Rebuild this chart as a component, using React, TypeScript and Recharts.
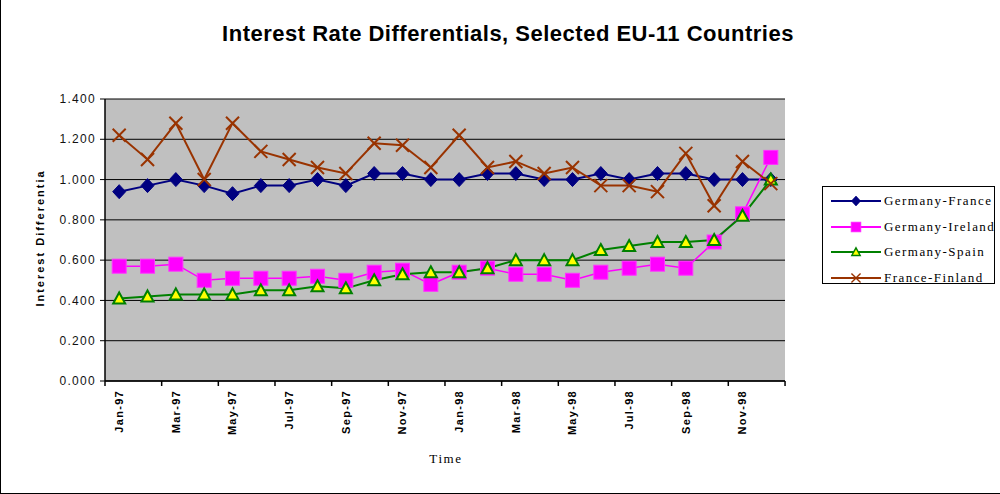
import React from 'react';
import { LineChart, Line, XAxis, YAxis, CartesianGrid } from 'recharts';

const months = [
  'Jan-97', 'Feb-97', 'Mar-97', 'Apr-97', 'May-97', 'Jun-97', 'Jul-97', 'Aug-97', 'Sep-97', 'Oct-97', 'Nov-97', 'Dec-97',
  'Jan-98', 'Feb-98', 'Mar-98', 'Apr-98', 'May-98', 'Jun-98', 'Jul-98', 'Aug-98', 'Sep-98', 'Oct-98', 'Nov-98', 'Dec-98',
];
const germanyFrance = [0.94, 0.97, 1.0, 0.97, 0.93, 0.97, 0.97, 1.0, 0.97, 1.03, 1.03, 1.0, 1.0, 1.03, 1.03, 1.0, 1.0, 1.03, 1.0, 1.03, 1.03, 1.0, 1.0, 1.0];
const germanyIreland = [0.57, 0.57, 0.58, 0.5, 0.51, 0.51, 0.51, 0.52, 0.5, 0.54, 0.55, 0.48, 0.54, 0.56, 0.53, 0.53, 0.5, 0.54, 0.56, 0.58, 0.56, 0.69, 0.83, 1.11];
const germanySpain = [0.41, 0.42, 0.43, 0.43, 0.43, 0.45, 0.45, 0.47, 0.46, 0.5, 0.53, 0.54, 0.54, 0.56, 0.6, 0.6, 0.6, 0.65, 0.67, 0.69, 0.69, 0.7, 0.82, 1.0];
const franceFinland = [1.22, 1.1, 1.28, 1.0, 1.28, 1.14, 1.1, 1.06, 1.03, 1.18, 1.17, 1.06, 1.22, 1.06, 1.09, 1.03, 1.06, 0.97, 0.97, 0.94, 1.13, 0.87, 1.09, 0.98];
const yTicks = [0, 0.2, 0.4, 0.6, 0.8, 1.0, 1.2, 1.4];

const seriesNames = ['Germany-France', 'Germany-Ireland', 'Germany-Spain', 'France-Finland'];
const seriesKeys = ['gf', 'gi', 'gs', 'ff'];
const seriesColors = ['#000080', '#FF00FF', '#008000', '#993300'];

const data = months.map((m, i) => ({
  month: m,
  gf: germanyFrance[i],
  gi: germanyIreland[i],
  gs: germanySpain[i],
  ff: franceFinland[i],
}));

const HALF_BAND = 14.19;

const Diamond = ({ cx, cy, size = 7 }: any) => (
  <polygon points={`${cx},${cy - size} ${cx + size - 0.5},${cy} ${cx},${cy + size} ${cx - size + 0.5},${cy}`} fill="#000080" stroke="#000080" strokeWidth={1} />
);
const Square = ({ cx, cy, size = 7 }: any) => (
  <rect x={cx - size} y={cy - size} width={size * 2} height={size * 2} fill="#FF00FF" stroke="#FF33FF" strokeWidth={1} />
);
const Triangle = ({ cx, cy, size = 6 }: any) => (
  <polygon points={`${cx},${cy - size} ${cx + size},${cy + size - 1} ${cx - size},${cy + size - 1}`} fill="#FFFF00" stroke="#008000" strokeWidth={2} strokeLinejoin="miter" />
);
const Cross = ({ cx, cy, size = 6.5 }: any) => (
  <g stroke="#993300" strokeWidth={2}>
    <line x1={cx - size} y1={cy - size} x2={cx + size} y2={cy + size} />
    <line x1={cx - size} y1={cy + size} x2={cx + size} y2={cy - size} />
  </g>
);

const markers = [Diamond, Square, Triangle, Cross];

const makeDot = (Comp: any, name: string) => (props: any) => {
  const { cx, cy, index } = props;
  if (cx == null || cy == null) return <g key={`${name}-${index}`} />;
  return <Comp key={`${name}-${index}`} cx={cx} cy={cy} />;
};

const XTick = (props: any) => {
  const { x, y, payload, index } = props;
  const off = HALF_BAND;
  const left = x - off;
  const isLast = index === 22 || (payload && payload.index === 22);
  return (
    <g>
      <line x1={left} y1={y} x2={left} y2={y + 5} stroke="#000" strokeWidth={1.5} />
      {isLast ? <line x1={x + 3 * off} y1={y} x2={x + 3 * off} y2={y + 5} stroke="#000" strokeWidth={1.5} /> : null}
      <text
        x={x}
        y={y + 9}
        transform={`rotate(-90, ${x}, ${y + 9})`}
        textAnchor="end"
        dy="0.35em"
        fontFamily="'Liberation Sans', Arial, sans-serif"
        fontWeight="bold"
        fontSize={11}
        letterSpacing={1.3}
        fill="#000"
      >
        {payload.value}
      </text>
    </g>
  );
};

const YTick = (props: any) => {
  const { x, y, payload } = props;
  return (
    <text
      x={x}
      y={y}
      textAnchor="end"
      dy="0.35em"
      fontFamily="'Liberation Sans', Arial, sans-serif"
      fontSize={12}
      letterSpacing={1.3}
      fill="#111"
    >
      {Number(payload.value).toFixed(3)}
    </text>
  );
};

const serifFont = "'Liberation Serif', 'Times New Roman', serif";

const LegendBox = () => (
  <div
    style={{
      position: 'absolute',
      left: 821,
      top: 186,
      width: 173,
      height: 98,
      border: '1px solid #000',
      background: '#fff',
      boxSizing: 'border-box',
    }}
  >
    {seriesNames.map((n, i) => {
      const M = markers[i];
      return (
        <div key={n} style={{ position: 'absolute', left: 0, top: 3 + i * 25.7, height: 22, width: 170 }}>
          <svg width={60} height={22} style={{ position: 'absolute', left: 6, top: 0 }}>
            <line x1={2} y1={11} x2={52} y2={11} stroke={seriesColors[i]} strokeWidth={2} />
            <g transform="translate(27,11) scale(0.7) translate(-27,-11)">
              <M cx={27} cy={11} />
            </g>
          </svg>
          <span
            style={{
              position: 'absolute',
              left: 61,
              top: 3,
              fontFamily: serifFont,
              fontSize: 13,
              letterSpacing: 1.45,
              lineHeight: '15px',
              whiteSpace: 'nowrap',
              color: '#000',
            }}
          >
            {n}
          </span>
        </div>
      );
    })}
  </div>
);

export default function App() {
  return (
    <div
      style={{
        position: 'absolute',
        left: 0,
        top: 0,
        width: 1000,
        height: 494,
        background: '#fff',
        borderLeft: '1px solid #000',
        borderBottom: '1px solid #000',
        boxSizing: 'border-box',
        overflow: 'hidden',
      }}
    >
      <div style={{ position: 'absolute', left: -1, top: 0 }}>
        <LineChart
          width={1000}
          height={494}
          data={data}
          margin={{ top: 99, right: 215, left: 0, bottom: 0 }}
        >
          <CartesianGrid vertical={false} stroke="#000" strokeWidth={1} fill="#C0C0C0" fillOpacity={1} />
          <XAxis
            dataKey="month"
            interval={1}
            height={113}
            padding={{ left: HALF_BAND, right: HALF_BAND }}
            tick={<XTick />}
            tickLine={false}
            tickSize={0}
            tickMargin={0}
            axisLine={{ stroke: '#000', strokeWidth: 1.5 }}
          />
          <XAxis
            xAxisId="top"
            dataKey="month"
            orientation="top"
            height={0}
            tick={false}
            tickLine={false}
            axisLine={{ stroke: '#808080', strokeWidth: 1.5 }}
          />
          <YAxis
            domain={[0, 1.4]}
            ticks={yTicks}
            width={105}
            tick={<YTick />}
            tickSize={5}
            tickMargin={4}
            tickLine={{ stroke: '#000' }}
            axisLine={{ stroke: '#000', strokeWidth: 1.5 }}
            interval={0}
          />
          <YAxis
            yAxisId="right"
            orientation="right"
            domain={[0, 1.4]}
            width={0}
            tick={false}
            tickLine={false}
            axisLine={{ stroke: '#808080', strokeWidth: 2 }}
          />
          {seriesKeys.map((k, i) => (
            <Line
              key={k}
              type="linear"
              dataKey={k}
              name={seriesNames[i]}
              stroke={seriesColors[i]}
              strokeWidth={i === 1 ? 1.5 : 2}
              dot={makeDot(markers[i], k)}
              activeDot={false}
              isAnimationActive={false}
            />
          ))}
        </LineChart>
      </div>
      <svg width={1000} height={494} style={{ position: 'absolute', left: 0, top: 0, pointerEvents: 'none' }}>
        <text
          x={507}
          y={33}
          textAnchor="middle"
          dominantBaseline="central"
          fontFamily="'Liberation Sans', Arial, sans-serif"
          fontWeight="bold"
          fontSize={22}
          letterSpacing={0.5}
          fill="#000"
        >
          Interest Rate Differentials, Selected EU-11 Countries
        </text>
        <text
          x={39}
          y={238}
          transform="rotate(-90, 39, 238)"
          textAnchor="middle"
          dominantBaseline="central"
          fontFamily="'Liberation Sans', Arial, sans-serif"
          fontWeight="bold"
          fontSize={11}
          letterSpacing={2}
          fill="#000"
        >
          Interest Differentia
        </text>
        <text
          x={445}
          y={458}
          textAnchor="middle"
          dominantBaseline="central"
          fontFamily={serifFont}
          fontSize={13}
          letterSpacing={1.6}
          fill="#000"
        >
          Time
        </text>
      </svg>
      <LegendBox />
    </div>
  );
}
